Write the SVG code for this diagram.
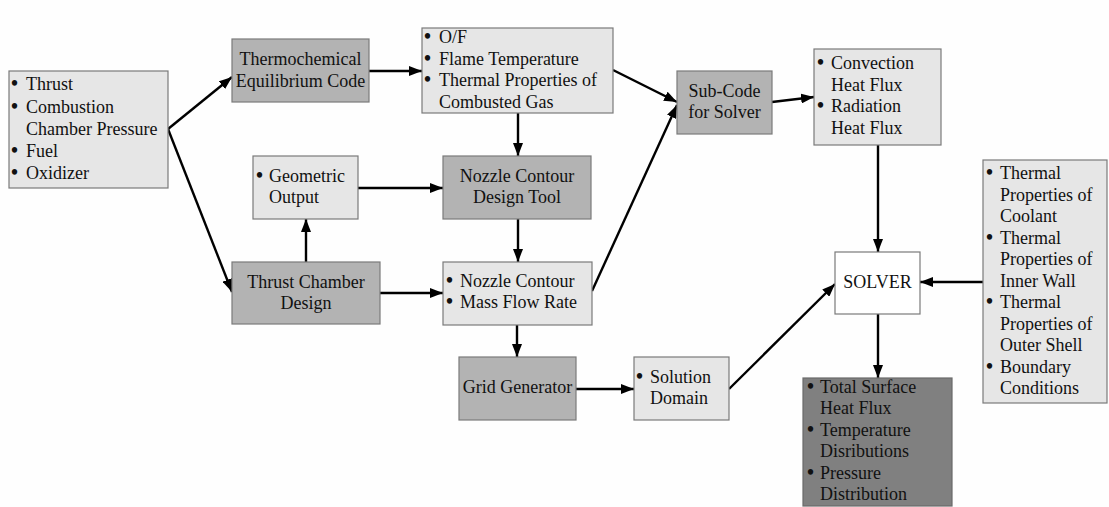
<svg xmlns="http://www.w3.org/2000/svg" width="1109" height="507" viewBox="0 0 1109 507" font-family="'Liberation Serif', 'DejaVu Serif', serif">
<style>
text{font-family:'Liberation Serif','DejaVu Serif',serif;font-size:18px;fill:#111}
.b{font-weight:bold;font-size:20px}
.c{text-anchor:middle}
.lt{fill:#e6e6e6;stroke:#7a7a7a;stroke-width:1.2}
.dk{fill:#b3b3b3;stroke:#7a7a7a;stroke-width:1.2}
.wh{fill:#ffffff;stroke:#7a7a7a;stroke-width:1.2}
.xd{fill:#808080;stroke:#6a6a6a;stroke-width:1.2}
.e{fill:none;stroke:#000;stroke-width:2.4;marker-end:url(#ah)}
</style>
<defs>
<marker id="ah" markerUnits="userSpaceOnUse" markerWidth="13" markerHeight="10" refX="13" refY="5" orient="auto">
<path d="M0,0 L13,5 L0,10 z" fill="#000"/>
</marker>
</defs>
<rect width="1109" height="507" fill="#fefefe"/>
<g id="connectors">
<path class="e" d="M168,129 L232,77"/>
<path class="e" d="M168,129 L232,292"/>
<path class="e" d="M369,71 L422,71"/>
<path class="e" d="M518,113 L518,156"/>
<path class="e" d="M358,188 L443,188"/>
<path class="e" d="M306,262 L306,219"/>
<path class="e" d="M518,219 L518,262"/>
<path class="e" d="M380,293 L443,293"/>
<path class="e" d="M517,325 L517,357"/>
<path class="e" d="M576,389 L634,389"/>
<path class="e" d="M729,389 L835,284"/>
<path class="e" d="M592,291 L677,105"/>
<path class="e" d="M613,70 L677,102"/>
<path class="e" d="M772,102 L814,97"/>
<path class="e" d="M878,145 L878,252"/>
<path class="e" d="M983,282 L920,282"/>
<path class="e" d="M878,314 L878,378"/>
</g>
<g id="inputs">
<rect class="lt" x="9" y="71" width="159" height="117"/>
<text y="90"><tspan class="b" x="11">•</tspan><tspan x="26">Thrust</tspan></text>
<text y="113"><tspan class="b" x="11">•</tspan><tspan x="26">Combustion</tspan></text>
<text x="26" y="135">Chamber Pressure</text>
<text y="157"><tspan class="b" x="11">•</tspan><tspan x="26">Fuel</tspan></text>
<text y="179"><tspan class="b" x="11">•</tspan><tspan x="26">Oxidizer</tspan></text>
</g>
<g id="thermochemical">
<rect class="dk" x="232" y="39" width="137" height="63"/>
<text class="c" x="300.5" y="65">Thermochemical</text>
<text class="c" x="300.5" y="87">Equilibrium Code</text>
</g>
<g id="of-props">
<rect class="lt" x="422" y="28" width="191" height="85"/>
<text y="43"><tspan class="b" x="424">•</tspan><tspan x="439">O/F</tspan></text>
<text y="65"><tspan class="b" x="424">•</tspan><tspan x="439">Flame Temperature</tspan></text>
<text y="86"><tspan class="b" x="424">•</tspan><tspan x="439">Thermal Properties of</tspan></text>
<text x="439" y="108">Combusted Gas</text>
</g>
<g id="geometric-output">
<rect class="lt" x="253" y="156" width="105" height="63"/>
<text y="182"><tspan class="b" x="256">•</tspan><tspan x="269">Geometric</tspan></text>
<text x="269" y="203">Output</text>
</g>
<g id="nozzle-design-tool">
<rect class="dk" x="443" y="156" width="148" height="63"/>
<text class="c" x="517" y="182">Nozzle Contour</text>
<text class="c" x="517" y="203">Design Tool</text>
</g>
<g id="thrust-chamber">
<rect class="dk" x="232" y="262" width="148" height="62"/>
<text class="c" x="306" y="288">Thrust Chamber</text>
<text class="c" x="306" y="309">Design</text>
</g>
<g id="nozzle-contour">
<rect class="lt" x="443" y="262" width="149" height="63"/>
<text y="287"><tspan class="b" x="446">•</tspan><tspan x="460">Nozzle Contour</tspan></text>
<text y="308"><tspan class="b" x="446">•</tspan><tspan x="460">Mass Flow Rate</tspan></text>
</g>
<g id="grid-generator">
<rect class="dk" x="459" y="357" width="117" height="63"/>
<text class="c" x="517.5" y="393">Grid Generator</text>
</g>
<g id="solution-domain">
<rect class="lt" x="634" y="357" width="95" height="63"/>
<text y="383"><tspan class="b" x="636">•</tspan><tspan x="650">Solution</tspan></text>
<text x="650" y="404">Domain</text>
</g>
<g id="sub-code">
<rect class="dk" x="677" y="71" width="95" height="63"/>
<text class="c" x="724.5" y="97">Sub-Code</text>
<text class="c" x="724.5" y="118">for Solver</text>
</g>
<g id="heat-flux">
<rect class="lt" x="814" y="49" width="127" height="96"/>
<text y="69"><tspan class="b" x="817">•</tspan><tspan x="831">Convection</tspan></text>
<text x="831" y="91">Heat Flux</text>
<text y="112"><tspan class="b" x="817">•</tspan><tspan x="831">Radiation</tspan></text>
<text x="831" y="134">Heat Flux</text>
</g>
<g id="solver">
<rect class="wh" x="835" y="252" width="85" height="62"/>
<text class="c" x="877.5" y="288">SOLVER</text>
</g>
<g id="boundary-inputs">
<rect class="lt" x="983" y="160" width="124" height="243"/>
<text y="179"><tspan class="b" x="986">•</tspan><tspan x="1000">Thermal</tspan></text>
<text x="1000" y="200.5">Properties of</text>
<text x="1000" y="222">Coolant</text>
<text y="243.5"><tspan class="b" x="986">•</tspan><tspan x="1000">Thermal</tspan></text>
<text x="1000" y="265">Properties of</text>
<text x="1000" y="286.5">Inner Wall</text>
<text y="308"><tspan class="b" x="986">•</tspan><tspan x="1000">Thermal</tspan></text>
<text x="1000" y="329.5">Properties of</text>
<text x="1000" y="351">Outer Shell</text>
<text y="372.5"><tspan class="b" x="986">•</tspan><tspan x="1000">Boundary</tspan></text>
<text x="1000" y="394">Conditions</text>
</g>
<g id="outputs">
<rect class="xd" x="803" y="378" width="149" height="128"/>
<text y="393"><tspan class="b" x="807">•</tspan><tspan x="820">Total Surface</tspan></text>
<text x="820" y="414">Heat Flux</text>
<text y="436"><tspan class="b" x="807">•</tspan><tspan x="820">Temperature</tspan></text>
<text x="820" y="457">Disributions</text>
<text y="479"><tspan class="b" x="807">•</tspan><tspan x="820">Pressure</tspan></text>
<text x="820" y="500">Distribution</text>
</g>
</svg>
